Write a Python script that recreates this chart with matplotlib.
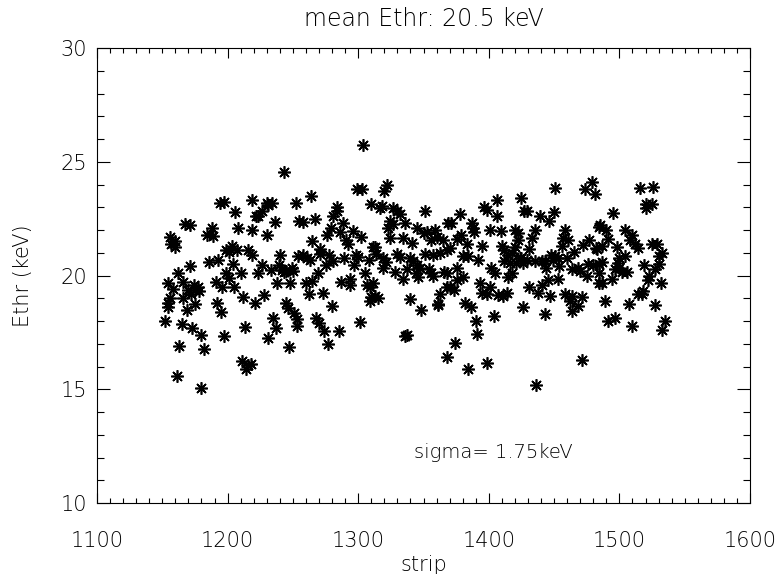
import matplotlib
matplotlib.use('Agg')
import matplotlib.pyplot as plt
from matplotlib.ticker import MultipleLocator

# strip numbers and threshold energies (keV)
STRIPS = [
    1152, 1154, 1154, 1154, 1156, 1156, 1157, 1158, 1160, 1160, 1161, 1162, 1163, 1165,
    1166, 1166, 1167, 1169, 1170, 1171, 1171, 1172, 1173, 1174, 1175, 1175, 1177, 1178,
    1180, 1180, 1182, 1184, 1186, 1188, 1189, 1191, 1192, 1193, 1194, 1195, 1196, 1197,
    1197, 1199, 1199, 1201, 1201, 1203, 1204, 1205, 1206, 1207, 1208, 1210, 1211, 1212,
    1213, 1214, 1216, 1216, 1218, 1219, 1219, 1219, 1221, 1222, 1223, 1223, 1226, 1226,
    1228, 1230, 1230, 1231, 1231, 1233, 1234, 1235, 1236, 1237, 1238, 1239, 1240, 1242,
    1243, 1243, 1245, 1245, 1246, 1247, 1248, 1249, 1250, 1251, 1252, 1253, 1253, 1254,
    1255, 1258, 1258, 1260, 1261, 1262, 1263, 1264, 1265, 1265, 1267, 1268, 1269, 1270,
    1271, 1271, 1273, 1274, 1275, 1276, 1277, 1278, 1279, 1280, 1281, 1281, 1284, 1284,
    1285, 1286, 1287, 1288, 1289, 1291, 1292, 1294, 1294, 1296, 1297, 1298, 1299, 1300,
    1301, 1302, 1303, 1304, 1305, 1307, 1308, 1309, 1309, 1310, 1310, 1311, 1311, 1313,
    1313, 1314, 1315, 1317, 1318, 1319, 1319, 1320, 1321, 1322, 1323, 1324, 1324, 1327,
    1327, 1328, 1330, 1330, 1332, 1332, 1334, 1334, 1336, 1336, 1337, 1337, 1340, 1340,
    1341, 1342, 1344, 1345, 1345, 1346, 1347, 1348, 1350, 1351, 1351, 1353, 1354, 1356,
    1356, 1357, 1357, 1359, 1360, 1361, 1361, 1363, 1363, 1365, 1366, 1368, 1368, 1368,
    1368, 1369, 1370, 1370, 1371, 1373, 1374, 1376, 1376, 1376, 1378, 1379, 1380, 1380,
    1382, 1383, 1384, 1384, 1386, 1387, 1388, 1389, 1390, 1391, 1392, 1393, 1395, 1395,
    1396, 1399, 1399, 1399, 1401, 1401, 1402, 1404, 1405, 1406, 1406, 1407, 1409, 1410,
    1411, 1412, 1412, 1414, 1415, 1415, 1416, 1418, 1418, 1420, 1420, 1421, 1422, 1422,
    1424, 1425, 1425, 1426, 1426, 1427, 1429, 1429, 1431, 1431, 1433, 1435, 1435, 1436,
    1438, 1439, 1441, 1441, 1443, 1443, 1444, 1445, 1446, 1447, 1448, 1449, 1450, 1451,
    1451, 1453, 1453, 1454, 1456, 1457, 1458, 1458, 1460, 1461, 1462, 1464, 1464, 1464,
    1465, 1468, 1468, 1470, 1471, 1471, 1472, 1474, 1475, 1476, 1477, 1479, 1480, 1481,
    1482, 1483, 1484, 1484, 1484, 1484, 1485, 1487, 1487, 1487, 1489, 1490, 1491, 1491,
    1494, 1495, 1497, 1497, 1498, 1499, 1500, 1500, 1502, 1504, 1504, 1506, 1507, 1508,
    1510, 1510, 1512, 1514, 1514, 1516, 1517, 1518, 1519, 1520, 1520, 1522, 1523, 1525,
    1525, 1526, 1527, 1527, 1529, 1530, 1530, 1532, 1533, 1533, 1535,
]
ETHR = [
    18.0, 19.65, 18.8, 18.6, 21.7, 19.0, 21.4, 19.4, 21.5, 21.25, 15.6, 20.1, 16.9, 17.85,
    19.7, 19.0, 22.25, 18.5, 19.35, 22.2, 20.4, 19.2, 17.7, 19.6, 19.35, 18.75, 19.5, 19.3,
    17.4, 15.05, 16.75, 21.8, 20.6, 22.1, 21.75, 19.7, 18.8, 20.7, 23.2, 18.4, 19.5, 17.35,
    23.25, 21.1, 20.1, 21.05, 19.9, 21.3, 20.5, 19.5, 22.8, 21.1, 22.1, 20.1, 16.25, 19.05,
    17.75, 15.9, 21.1, 16.05, 16.1, 23.33, 22.0, 20.9, 18.8, 22.6, 22.6, 20.1, 22.85, 20.45,
    19.15, 23.2, 21.8, 23.1, 17.25, 20.25, 23.2, 18.15, 22.35, 17.7, 19.65, 20.45, 20.9, 20.25,
    24.53, 20.15, 20.2, 18.8, 18.55, 16.85, 19.65, 20.35, 20.2, 18.33, 23.2, 18.07, 17.8, 20.85,
    22.4, 22.35, 20.9, 19.65, 20.75, 19.2, 20.7, 23.5, 21.5, 19.75, 22.5, 18.15, 20.1, 17.9,
    21.15, 20.95, 19.25, 17.55, 20.45, 21.8, 16.97, 20.9, 22.1, 18.65, 22.6, 20.65, 23.0, 22.85,
    17.55, 21.9, 19.7, 22.3, 20.75, 21.55, 21.4, 19.85, 19.6, 21.95, 20.45, 20.9, 23.8, 20.8,
    17.95, 21.7, 23.8, 25.75, 20.1, 19.6, 20.7, 19.5, 18.9, 23.15, 19.05, 21.25, 19.65, 21.25,
    19.1, 20.95, 19.0, 22.95, 23.05, 20.75, 20.35, 23.7, 20.6, 24.0, 22.1, 22.4, 21.65, 22.95,
    22.25, 20.15, 22.85, 20.95, 22.7, 20.8, 21.65, 19.85, 22.3, 17.35, 20.3, 17.4, 20.75, 18.95,
    21.45, 20.65, 20.1, 22.1, 20.45, 19.95, 20.35, 18.5, 21.85, 22.85, 20.95, 21.9, 20.3, 21.55,
    20.1, 20.9, 20.0, 22.0, 21.7, 18.75, 18.7, 21.0, 19.2, 21.55, 20.15, 21.1, 20.1, 19.5,
    16.4, 22.3, 21.2, 19.5, 22.3, 19.35, 17.05, 21.6, 20.35, 19.8, 22.7, 21.8, 20.85, 19.95,
    18.8, 21.4, 20.85, 15.9, 18.6, 22.3, 22.1, 21.9, 18.0, 17.45, 20.7, 19.65, 21.3, 19.25,
    23.0, 22.9, 19.2, 16.15, 22.0, 19.5, 20.35, 18.2, 20.1, 23.3, 22.6, 19.15, 21.95, 21.3,
    19.1, 21.1, 20.65, 19.25, 20.9, 19.95, 20.55, 21.0, 20.1, 22.0, 21.25, 20.55, 21.85, 21.55,
    20.75, 23.4, 20.75, 20.55, 18.6, 22.85, 22.85, 20.7, 21.15, 19.5, 21.65, 22.0, 20.65, 15.2,
    19.25, 22.6, 20.65, 19.6, 20.65, 18.3, 20.35, 19.8, 22.4, 19.1, 20.9, 20.7, 22.8, 23.85,
    20.85, 20.75, 19.85, 20.4, 21.3, 21.65, 22.0, 19.2, 20.75, 21.55, 18.9, 20.3, 19.1, 18.45,
    21.05, 20.35, 18.65, 20.2, 19.05, 16.3, 21.35, 23.8, 20.0, 20.5, 21.55, 24.1, 20.45, 23.6,
    21.2, 21.15, 22.15, 20.5, 20.1, 19.65, 22.2, 21.3, 20.6, 19.65, 18.9, 22.0, 21.6, 18.0,
    19.85, 22.75, 20.3, 18.15, 21.25, 20.55, 20.75, 20.35, 20.15, 22.0, 20.85, 20.15, 18.75, 21.55,
    21.8, 17.8, 21.4, 21.2, 19.2, 23.85, 19.2, 19.3, 20.45, 23.15, 22.95, 19.8, 20.0, 23.15,
    21.4, 23.9, 20.3, 18.7, 21.4, 20.85, 20.5, 19.65, 21.0, 17.6, 18.0,
]

TITLE = 'mean Ethr: 20.5 keV'
SIGMA_TEXT = 'sigma= 1.75keV'


def main():
    plt.rcParams['font.family'] = ['DejaVu Sans']
    # thin strokes, closer to the IDL vector font
    plt.rcParams['font.weight'] = 'light'
    plt.rcParams['axes.titleweight'] = 'light'
    plt.rcParams['axes.labelweight'] = 'light'
    fig = plt.figure(figsize=(7.84, 5.74), dpi=100)
    ax = fig.add_axes([97 / 784, 71 / 574, 653 / 784, 455 / 574])

    # IDL style asterisks
    ax.plot(STRIPS, ETHR, linestyle='none', marker=(8, 2, 0), markersize=9,
            markeredgewidth=1.2, color='black')

    ax.set_xlim(1100, 1600)
    ax.set_ylim(10, 30)
    ax.xaxis.set_major_locator(MultipleLocator(100))
    ax.xaxis.set_minor_locator(MultipleLocator(10))
    ax.yaxis.set_major_locator(MultipleLocator(5))
    ax.yaxis.set_minor_locator(MultipleLocator(1))

    ax.tick_params(axis='x', which='both', direction='in', top=True, bottom=True,
                   width=0.8, labelsize=15, pad=20)
    ax.tick_params(axis='x', which='major', length=7)
    ax.tick_params(axis='x', which='minor', length=3.5)
    ax.tick_params(axis='y', which='both', direction='in', left=True, right=True,
                   width=0.8, labelsize=15, pad=7)
    ax.tick_params(axis='y', which='major', length=9.5)
    ax.tick_params(axis='y', which='minor', length=4.7)
    for sp in ax.spines.values():
        sp.set_linewidth(0.8)

    ax.set_xlabel('strip', fontsize=15, labelpad=3)
    ax.set_ylabel('Ethr (keV)', fontsize=15, labelpad=20)
    ax.set_title(TITLE, fontsize=17, pad=16)
    ax.text(1343, 12.2, SIGMA_TEXT, fontsize=14, ha='left', va='center')

    fig.savefig('out.png', dpi=100)


if __name__ == '__main__':
    main()
